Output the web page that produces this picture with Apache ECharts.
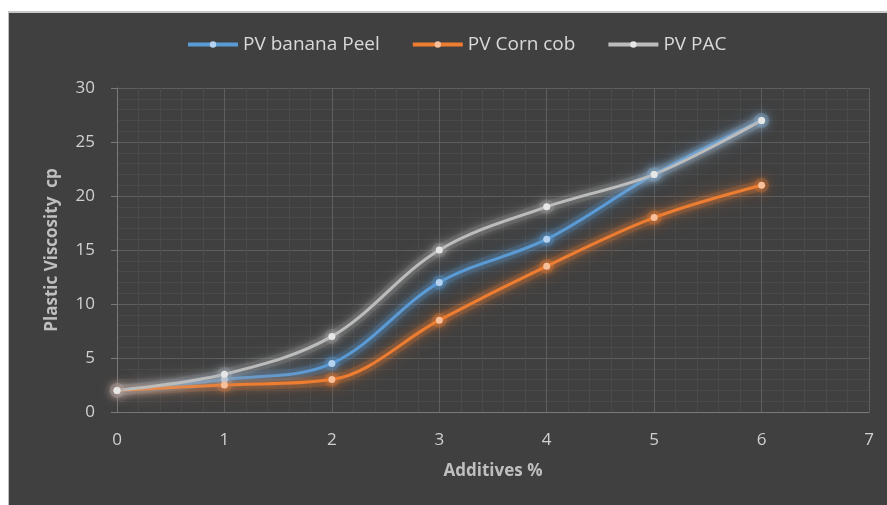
<!DOCTYPE html>
<html>
<head>
<meta charset="utf-8">
<script src="https://cdn.jsdelivr.net/npm/echarts@6/dist/echarts.min.js"></script>
<style>
  html, body { margin: 0; padding: 0; background: #ffffff; }
  #frame {
    position: absolute; left: 8px; top: 11px; width: 879px; height: 494px;
    background: #404040; border-left: 1px solid #bdbdbd; border-top: 2px solid #c8c8c8;
    box-sizing: border-box;
  }
  #chart { position: absolute; left: 0; top: 0; width: 887px; height: 505px; }
</style>
</head>
<body>
<div id="frame"></div>
<div id="chart"></div>
<script>
// Additive concentration (%) on the x axis
const additives = [0, 1, 2, 3, 4, 5, 6];
// Plastic viscosity (cp) for each additive
const pvBananaPeel = [2, 3, 4.5, 12, 16, 22, 27];
const pvCornCob = [2, 2.5, 3, 8.5, 13.5, 18, 21];
const pvPAC = [2, 3.5, 7, 15, 19, 22, 27];
const seriesNames = ['PV banana Peel', 'PV Corn cob', 'PV PAC'];

const FONT = '"Open Sans", "Noto Sans", sans-serif';
const chart = echarts.init(document.getElementById('chart'), null, { renderer: 'canvas' });

function points(values) {
  return additives.map((x, i) => [x, values[i]]);
}

// soft halo drawn beneath each curve
function halo(values, color) {
  return {
    name: 'halo',
    type: 'line',
    smooth: 0.35,
    data: points(values),
    symbol: 'circle',
    symbolSize: 15,
    silent: true,
    z: 1,
    itemStyle: { color: color, opacity: 0.22, shadowBlur: 16, shadowColor: color },
    lineStyle: { color: color, width: 11, opacity: 0.16, shadowBlur: 20, shadowColor: color },
    emphasis: { disabled: true },
    tooltip: { show: false }
  };
}

function glowLine(name, values, color, markerColor) {
  return {
    name: name,
    type: 'line',
    smooth: 0.35,
    data: points(values),
    symbol: 'circle',
    symbolSize: 7,
    z: 3,
    itemStyle: { color: markerColor, shadowBlur: 10, shadowColor: color },
    lineStyle: { color: color, width: 3, shadowBlur: 10, shadowColor: color },
    emphasis: { disabled: true }
  };
}

chart.setOption({
  backgroundColor: 'transparent',
  animation: false,
  legend: {
    data: seriesNames,
    top: 30,
    left: 181,
    itemWidth: 50,
    itemHeight: 8,
    itemGap: 31,
    lineStyle: { width: 4, shadowBlur: 0 },
    itemStyle: { shadowBlur: 0 },
    textStyle: { color: '#d9d9d9', fontSize: 19, fontFamily: FONT }
  },
  grid: { left: 117, right: 18, top: 88, bottom: 93, containLabel: false },
  xAxis: {
    type: 'value',
    min: 0, max: 7, interval: 1,
    name: 'Additives %',
    nameLocation: 'middle',
    nameGap: 51,
    nameTextStyle: { color: '#bfbfbf', fontSize: 17, fontWeight: 'bold', fontFamily: FONT },
    axisLine: { show: true, lineStyle: { color: '#7a7a7a', width: 1 } },
    axisTick: { show: false },
    axisLabel: { color: '#d0d0d0', fontSize: 17, margin: 20, fontFamily: FONT },
    splitLine: { show: true, lineStyle: { color: '#5e5e5e', width: 1 } },
    minorTick: { show: false, splitNumber: 5 },
    minorSplitLine: { show: true, lineStyle: { color: '#4a4a4a', width: 1 } }
  },
  yAxis: {
    type: 'value',
    min: 0, max: 30, interval: 5,
    name: 'Plastic Viscosity  cp',
    nameLocation: 'middle',
    nameGap: 56,
    nameTextStyle: { color: '#bfbfbf', fontSize: 17, fontWeight: 'bold', fontFamily: FONT },
    axisLine: { show: true, lineStyle: { color: '#7a7a7a', width: 1 } },
    axisTick: { show: true, length: 6, inside: false, lineStyle: { color: '#7a7a7a' } },
    axisLabel: { color: '#d0d0d0', fontSize: 17, margin: 22, fontFamily: FONT },
    splitLine: { show: true, lineStyle: { color: '#5e5e5e', width: 1 } },
    minorTick: { show: false, splitNumber: 5 },
    minorSplitLine: { show: true, lineStyle: { color: '#4a4a4a', width: 1 } }
  },
  series: [
    halo(pvPAC, '#9a9a9a'),
    halo(pvCornCob, '#ed7d31'),
    halo(pvBananaPeel, '#5b9bd5'),
    glowLine(seriesNames[0], pvBananaPeel, '#5b9bd5', '#b4d3f0'),
    glowLine(seriesNames[1], pvCornCob, '#ed7d31', '#f8c09a'),
    glowLine(seriesNames[2], pvPAC, '#bcbcbc', '#e6e6e6')
  ]
});
</script>
</body>
</html>
